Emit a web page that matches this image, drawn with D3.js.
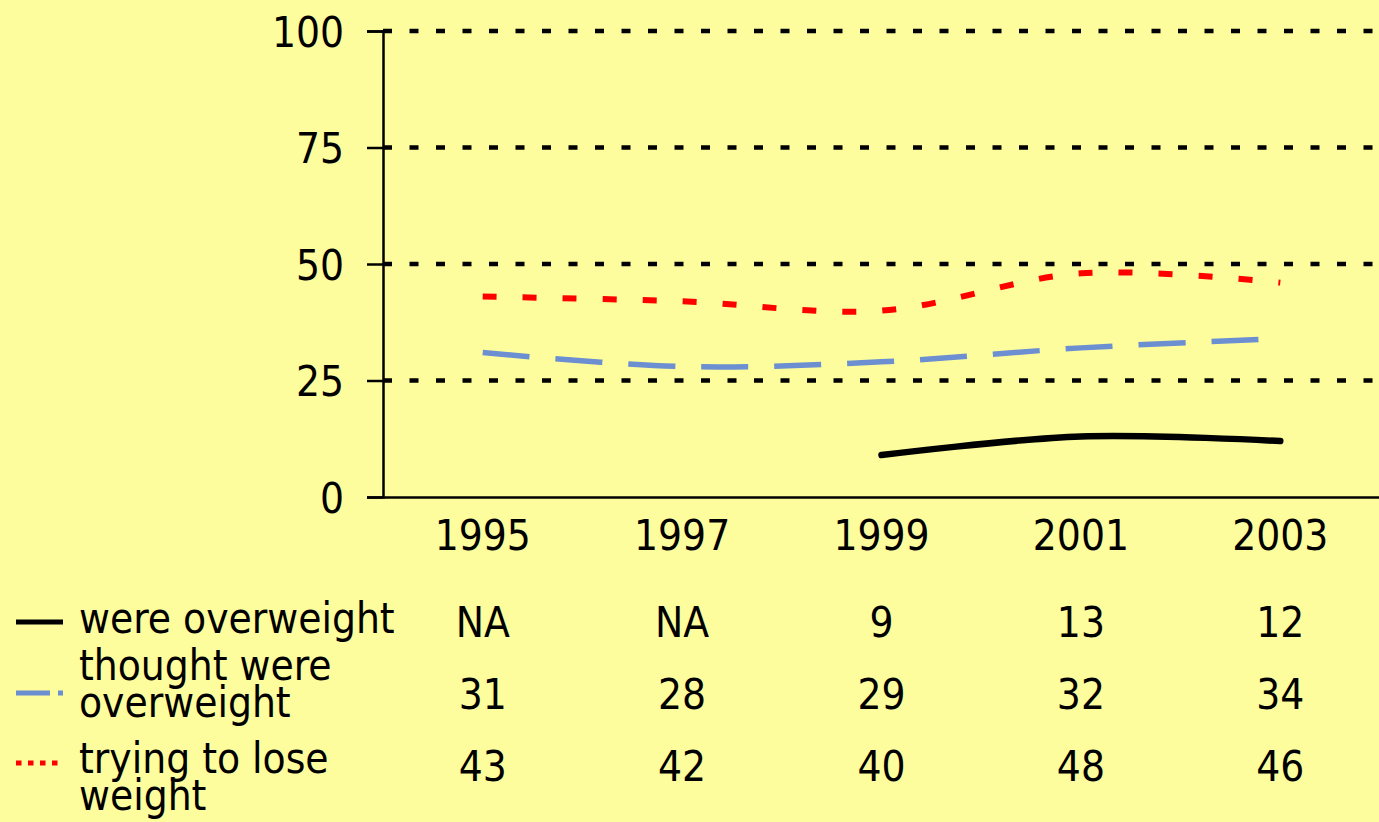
<!DOCTYPE html>
<html>
<head>
<meta charset="utf-8">
<script src="https://cdn.jsdelivr.net/npm/d3@7"></script>
<style>
  html, body { margin: 0; padding: 0; background: #fdfd9d; }
  svg { display: block; }
  text { font-family: "DejaVu Sans Condensed", "DejaVu Sans", sans-serif; font-stretch: condensed; fill: #000; }
</style>
</head>
<body>
<svg id="chart" width="1379" height="822"></svg>
<script>
// Survey years and series (percent)
const years = ["1995", "1997", "1999", "2001", "2003"];
const wereOverweight = [null, null, 9, 13, 12];
const thoughtOverweight = [31, 28, 29, 32, 34];
const tryingToLose = [43, 42, 40, 48, 46];
const yTicks = [0, 25, 50, 75, 100];
const seriesNames = [["were overweight"], ["thought were", "overweight"], ["trying to lose", "weight"]];

const svg = d3.select("#chart");
const W = 1379, H = 822;
const FONT = 42;
svg.append("rect").attr("width", W).attr("height", H).attr("fill", "#fdfd9d");

const x = d3.scaleBand().domain(years).range([383, 1380]).padding(0);
const y = d3.scaleLinear().domain([0, 100]).range([497, 31]);
const cx = d => x(d) + x.bandwidth() / 2;

// Dotted gridlines
svg.append("g").selectAll("line")
  .data(yTicks.filter(t => t > 0))
  .join("line")
  .attr("x1", x.range()[0]).attr("x2", W)
  .attr("y1", d => y(d)).attr("y2", d => y(d))
  .attr("stroke", "#000").attr("stroke-width", 4.5)
  .attr("stroke-dasharray", "9,17.5");

// Y axis
const yAxis = d3.axisLeft(y).tickValues(yTicks).tickSize(16).tickPadding(23);
const gy = svg.append("g").attr("transform", `translate(${x.range()[0]},0)`).call(yAxis);
gy.select(".domain").attr("stroke", "#000").attr("stroke-width", 2.5);
gy.selectAll(".tick line").attr("stroke", "#000").attr("stroke-width", 2.5);
gy.selectAll(".tick text").attr("font-size", FONT).attr("dy", "0.36em")
  .style("font-family", "'DejaVu Sans Condensed','DejaVu Sans',sans-serif");

// X axis (category labels, no tick marks)
const xAxis = d3.axisBottom(x).tickSize(0).tickPadding(23);
const gx = svg.append("g").attr("transform", `translate(0,${y(0)})`).call(xAxis);
gx.select(".domain").attr("stroke", "#000").attr("stroke-width", 2.5);
gx.selectAll(".tick text").attr("font-size", FONT)
  .style("font-family", "'DejaVu Sans Condensed','DejaVu Sans',sans-serif");

// Series lines
const line = d3.line()
  .defined(d => d.v != null)
  .x(d => cx(d.year))
  .y(d => y(d.v))
  .curve(d3.curveCardinal.tension(0));

const series = [
  { values: wereOverweight, color: "#000000", width: 6.5, dash: null, legendDash: null },
  { values: thoughtOverweight, color: "#6b8fd0", width: 5.5, dash: "47,26", legendDash: "34,8,5,100" },
  { values: tryingToLose, color: "#ff0000", width: 6, dash: "14,26", legendDash: "5.5,6.5" }
];

series.forEach(s => {
  const pts = years.map((yr, i) => ({ year: yr, v: s.values[i] })).filter(d => d.v != null);
  svg.append("path")
    .datum(pts)
    .attr("d", line)
    .attr("fill", "none")
    .attr("stroke", s.color)
    .attr("stroke-width", s.width)
    .attr("stroke-linecap", s.dash ? "butt" : "round")
    .attr("stroke-dasharray", s.dash);
});

// Data table beneath the chart
const rowLegendY = [622, 693, 763];
const rowValueY = [637, 709, 781];
const labelBaselines = [[633], [680, 717], [773, 810]];

series.forEach((s, i) => {
  svg.append("line")
    .attr("x1", 16).attr("x2", i === 2 ? 58 : 63)
    .attr("y1", rowLegendY[i]).attr("y2", rowLegendY[i])
    .attr("stroke", s.color)
    .attr("stroke-width", 5)
    .attr("stroke-dasharray", s.legendDash);

  svg.append("g").selectAll("text")
    .data(seriesNames[i])
    .join("text")
    .attr("x", 79)
    .attr("y", (d, j) => labelBaselines[i][j])
    .attr("font-size", FONT)
    .text(d => d);

  svg.append("g").selectAll("text")
    .data(years.map((yr, k) => ({ year: yr, v: s.values[k] })))
    .join("text")
    .attr("x", d => cx(d.year))
    .attr("y", rowValueY[i])
    .attr("text-anchor", "middle")
    .attr("font-size", FONT)
    .text(d => d.v == null ? "NA" : d.v);
});
</script>
</body>
</html>
